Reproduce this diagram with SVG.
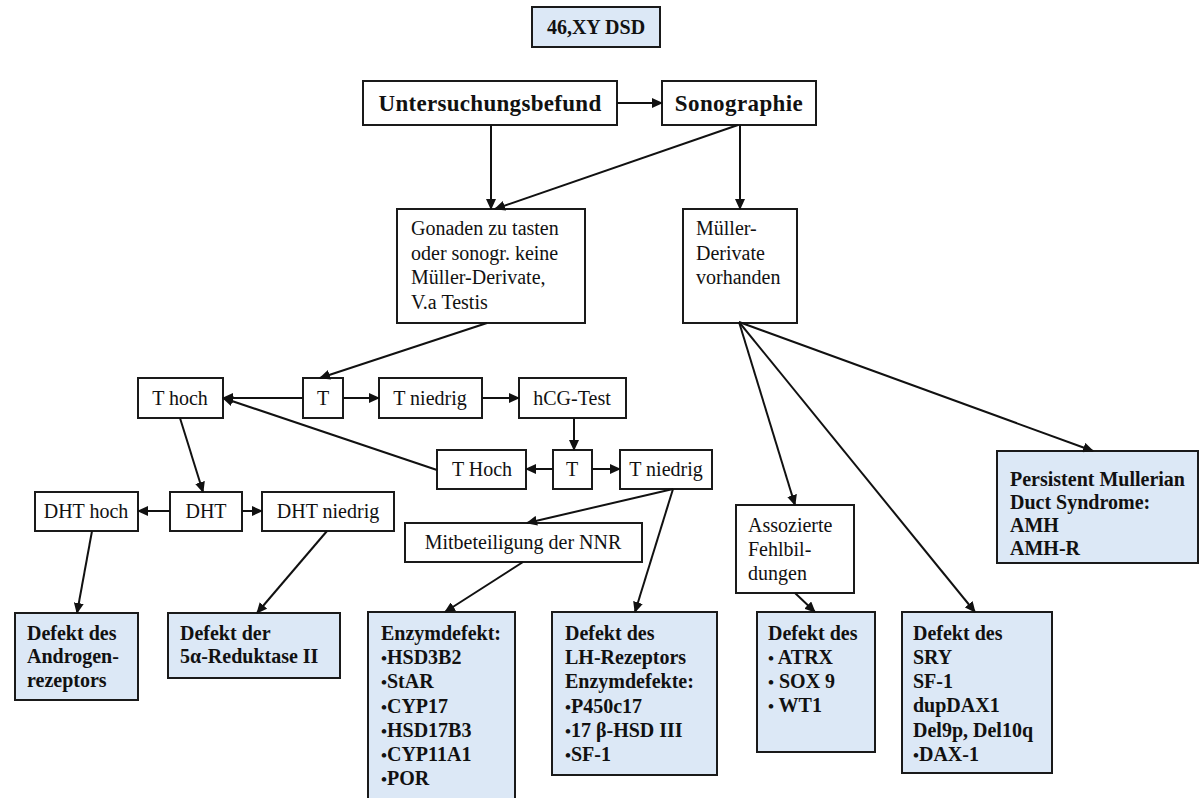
<svg xmlns="http://www.w3.org/2000/svg" width="1202" height="798" viewBox="0 0 1202 798">
<defs>
<marker id="ah" markerUnits="userSpaceOnUse" markerWidth="11" markerHeight="10" refX="10" refY="5" orient="auto">
<path d="M0,0 L11,5 L0,10 Z" fill="#111"/>
</marker>
<style>
.b{fill:#fff;stroke:#1a1a1a;stroke-width:2}
.f{fill:#dce8f6;stroke:#1a1a1a;stroke-width:2}
text{font-family:"Liberation Serif","Times New Roman",serif;font-size:20px;fill:#111}
.bd{font-weight:bold}
.c{text-anchor:middle}
.con line{stroke:#111;stroke-width:2;marker-end:url(#ah)}
.bl{font-size:17px}
</style>
</defs>
<rect width="1202" height="798" fill="#fff"/>

<g id="title"><rect class="f" x="532" y="7" width="128" height="40"/><text class="bd c" x="596" y="34">46,XY DSD</text></g>
<g id="untersuchungsbefund"><rect class="b" x="363" y="81" width="254" height="44"/><text class="bd c" x="490" y="111" style="font-size:23px;letter-spacing:0.3px">Untersuchungsbefund</text></g>
<g id="sonographie"><rect class="b" x="662" y="81" width="154" height="44"/><text class="bd c" x="739" y="111" style="font-size:23px;letter-spacing:0.4px">Sonographie</text></g>
<g id="gonaden"><rect class="b" x="397" y="209" width="188" height="114"/>
<text x="411" y="235">Gonaden zu tasten</text><text x="411" y="260">oder sonogr. keine</text><text x="411" y="284">Müller-Derivate,</text><text x="411" y="309">V.a Testis</text></g>
<g id="mueller"><rect class="b" x="683" y="209" width="114" height="114"/>
<text x="696" y="235">Müller-</text><text x="696" y="260">Derivate</text><text x="696" y="284">vorhanden</text></g>

<g id="thoch"><rect class="b" x="138" y="378" width="85" height="40"/><text class="c" x="180" y="405">T hoch</text></g>
<g id="t1"><rect class="b" x="303" y="378" width="40" height="40"/><text class="c" x="323" y="405">T</text></g>
<g id="tniedrig1"><rect class="b" x="379" y="378" width="103" height="40"/><text class="c" x="430" y="405">T niedrig</text></g>
<g id="hcg"><rect class="b" x="519" y="378" width="107" height="40"/><text class="c" x="572" y="405">hCG-Test</text></g>
<g id="tHoch2"><rect class="b" x="437" y="450" width="89" height="39"/><text class="c" x="482" y="476">T Hoch</text></g>
<g id="t2"><rect class="b" x="553" y="450" width="39" height="39"/><text class="c" x="572" y="476">T</text></g>
<g id="tniedrig2"><rect class="b" x="620" y="450" width="92" height="39"/><text class="c" x="666" y="476">T niedrig</text></g>

<g id="dhthoch"><rect class="b" x="35" y="492" width="103" height="39"/><text class="c" x="86" y="518">DHT hoch</text></g>
<g id="dht"><rect class="b" x="170" y="492" width="72" height="39"/><text class="c" x="206" y="518">DHT</text></g>
<g id="dhtniedrig"><rect class="b" x="262" y="492" width="132" height="39"/><text class="c" x="328" y="518">DHT niedrig</text></g>
<g id="nnr"><rect class="b" x="405" y="523" width="237" height="39"/><text class="c" x="523" y="549">Mitbeteiligung der NNR</text></g>

<g id="androgen"><rect class="f" x="15" y="613" width="123" height="87"/>
<text class="bd" x="27" y="640">Defekt des</text><text class="bd" x="27" y="663">Androgen-</text><text class="bd" x="27" y="687">rezeptors</text></g>
<g id="reduktase"><rect class="f" x="168" y="613" width="172" height="65"/>
<text class="bd" x="180" y="640">Defekt der</text><text class="bd" x="180" y="663">5α-Reduktase II</text></g>
<g id="enzym"><rect class="f" x="368" y="612" width="147" height="192"/>
<text class="bd" x="381" y="640">Enzymdefekt:</text>
<text class="bd" x="381" y="664"><tspan class="bl">•</tspan>HSD3B2</text>
<text class="bd" x="381" y="688"><tspan class="bl">•</tspan>StAR</text>
<text class="bd" x="381" y="713"><tspan class="bl">•</tspan>CYP17</text>
<text class="bd" x="381" y="737"><tspan class="bl">•</tspan>HSD17B3</text>
<text class="bd" x="381" y="761"><tspan class="bl">•</tspan>CYP11A1</text>
<text class="bd" x="381" y="785"><tspan class="bl">•</tspan>POR</text></g>
<g id="lh"><rect class="f" x="552" y="612" width="165" height="163"/>
<text class="bd" x="565" y="640">Defekt des</text>
<text class="bd" x="565" y="664">LH-Rezeptors</text>
<text class="bd" x="565" y="688">Enzymdefekte:</text>
<text class="bd" x="565" y="713"><tspan class="bl">•</tspan>P450c17</text>
<text class="bd" x="565" y="737"><tspan class="bl">•</tspan>17 β-HSD III</text>
<text class="bd" x="565" y="761"><tspan class="bl">•</tspan>SF-1</text></g>
<g id="assoz"><rect class="b" x="736" y="505" width="118" height="88"/>
<text x="748" y="532">Assozierte</text><text x="748" y="556">Fehlbil-</text><text x="748" y="580">dungen</text></g>
<g id="atrx"><rect class="f" x="757" y="612" width="118" height="140"/>
<text class="bd" x="768" y="640">Defekt des</text>
<text class="bd" x="768" y="664"><tspan class="bl">•</tspan> ATRX</text>
<text class="bd" x="768" y="688"><tspan class="bl">•</tspan> SOX 9</text>
<text class="bd" x="768" y="712"><tspan class="bl">•</tspan> WT1</text></g>
<g id="sry"><rect class="f" x="902" y="612" width="150" height="161"/>
<text class="bd" x="913" y="640">Defekt des</text>
<text class="bd" x="913" y="664">SRY</text>
<text class="bd" x="913" y="688">SF-1</text>
<text class="bd" x="913" y="712">dupDAX1</text>
<text class="bd" x="913" y="737">Del9p, Del10q</text>
<text class="bd" x="913" y="761"><tspan class="bl">•</tspan>DAX-1</text></g>
<g id="pmds"><rect class="f" x="997" y="451" width="201" height="112"/>
<text class="bd" x="1010" y="486">Persistent Mullerian</text>
<text class="bd" x="1010" y="509">Duct Syndrome:</text>
<text class="bd" x="1010" y="532">AMH</text>
<text class="bd" x="1010" y="555">AMH-R</text></g>

<g id="connectors" class="con">
<line x1="617" y1="103" x2="662" y2="103"/>
<line x1="491" y1="125" x2="491" y2="209"/>
<line x1="738" y1="125" x2="495" y2="209"/>
<line x1="740" y1="125" x2="740" y2="209"/>
<line x1="487" y1="323" x2="320" y2="378"/>
<line x1="303" y1="398" x2="223" y2="398"/>
<line x1="343" y1="398" x2="379" y2="398"/>
<line x1="482" y1="398" x2="519" y2="398"/>
<line x1="574" y1="418" x2="574" y2="450"/>
<line x1="553" y1="469" x2="526" y2="469"/>
<line x1="592" y1="469" x2="620" y2="469"/>
<line x1="437" y1="470" x2="223" y2="398"/>
<line x1="180" y1="418" x2="203" y2="492"/>
<line x1="170" y1="511" x2="138" y2="511"/>
<line x1="242" y1="511" x2="262" y2="511"/>
<line x1="92" y1="531" x2="77" y2="613"/>
<line x1="327" y1="531" x2="257" y2="613"/>
<line x1="673" y1="489" x2="527" y2="523"/>
<line x1="673" y1="489" x2="635" y2="612"/>
<line x1="523" y1="562" x2="445" y2="612"/>
<line x1="739" y1="322" x2="795" y2="505"/>
<line x1="739" y1="322" x2="975" y2="612"/>
<line x1="739" y1="322" x2="1093" y2="451"/>
<line x1="795" y1="593" x2="815" y2="612"/>
</g>
</svg>
